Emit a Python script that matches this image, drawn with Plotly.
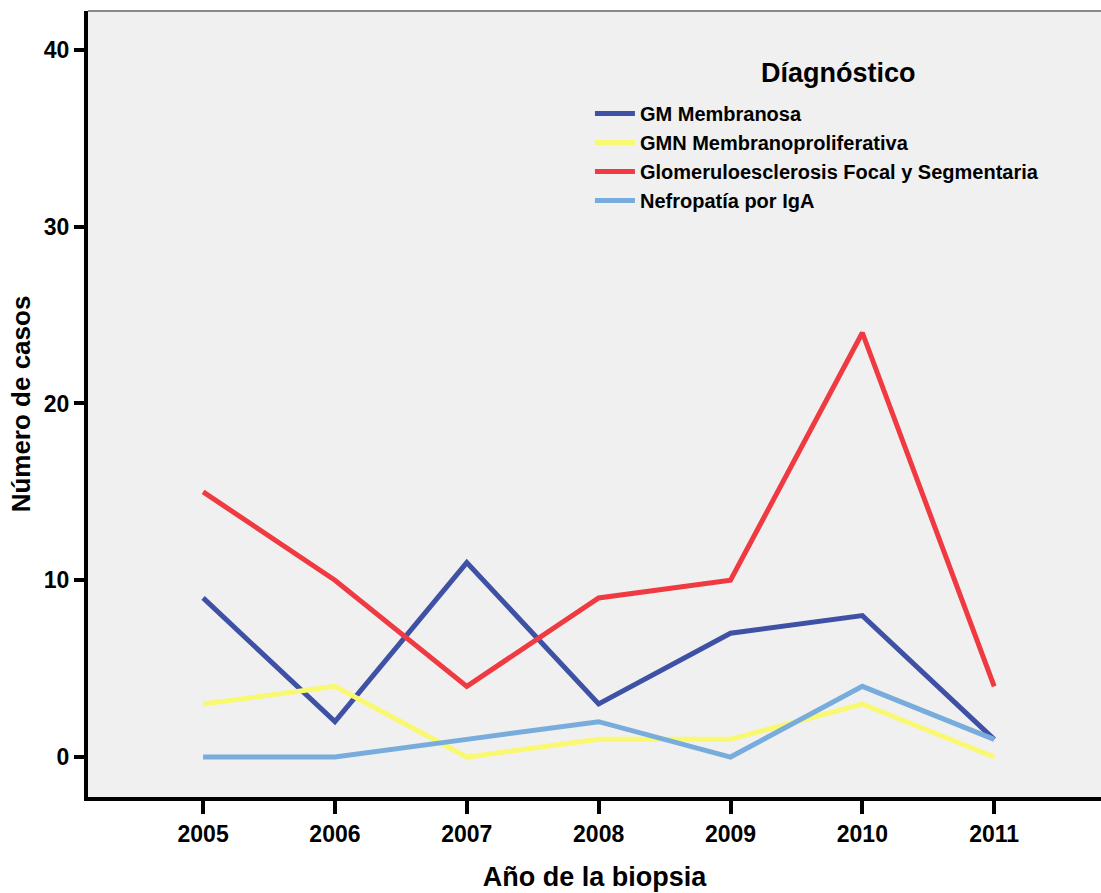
import plotly.graph_objects as go

years = [2005, 2006, 2007, 2008, 2009, 2010, 2011]
series_names = ["GM Membranosa", "GMN Membranoproliferativa",
                "Glomeruloesclerosis Focal y Segmentaria", "Nefropatía por IgA"]
gm_membranosa = [9, 2, 11, 3, 7, 8, 1]
gmn_membranoprolif = [3, 4, 0, 1, 1, 3, 0]
gfs = [15, 10, 4, 9, 10, 24, 4]
nefropatia_iga = [0, 0, 1, 2, 0, 4, 1]
colors = ["#3f51a5", "#f9f871", "#f03a42", "#78acdc"]
y_ticks = [0, 10, 20, 30, 40]
legend_title = "Díagnóstico"

font_family = "Liberation Sans, Arial, sans-serif"

fig = go.Figure()
for name, vals, col in zip(series_names,
                           [gm_membranosa, gmn_membranoprolif, gfs, nefropatia_iga],
                           colors):
    fig.add_trace(go.Scatter(x=years, y=vals, mode="lines", name=f"<b>{name}</b>",
                             line=dict(color=col, width=5)))

fig.update_layout(
    width=1101, height=893,
    margin=dict(l=88, r=0, t=11, b=96),
    paper_bgcolor="white",
    plot_bgcolor="#f0f0f0",
    font=dict(family=font_family, color="black"),
    showlegend=True,
    legend=dict(
        font=dict(size=20),
        x=0.4955, y=0.8944, xanchor="left", yanchor="top",
        bgcolor="rgba(0,0,0,0)",
        tracegroupgap=0, itemwidth=40,
    ),
    xaxis=dict(
        range=[2004.127, 2011.81],
        tickvals=years, ticktext=[f"<b>{y}</b>" for y in years],
        tickfont=dict(size=23),
        showline=True, linecolor="black", linewidth=4,
        ticks="outside", ticklen=13, tickwidth=4, tickcolor="black",
        showgrid=False, zeroline=False,
        title=dict(text="<b>Año de la biopsia</b>", font=dict(size=27), standoff=23),
    ),
    yaxis=dict(
        range=[-2.26, 42.2],
        tickvals=y_ticks, ticktext=[f"<b>{v}</b>" for v in y_ticks],
        tickfont=dict(size=23),
        showline=True, linecolor="black", linewidth=4,
        ticks="outside", ticklen=10, tickwidth=4, tickcolor="black",
        showgrid=False, zeroline=False,
        title=dict(text="<b>Número de casos</b>", font=dict(size=26), standoff=7),
    ),
)
fig.add_annotation(text=f"<b>{legend_title}</b>", xref="paper", yref="paper",
                   x=(838 - 88) / 1013, y=1 - (73 - 11) / 786,
                   xanchor="center", yanchor="middle", showarrow=False,
                   font=dict(size=27))
fig.add_shape(type="line", xref="paper", yref="paper", x0=0, x1=1, y0=1, y1=1,
              line=dict(color="#888888", width=2))

fig.write_html("out.html", config={"displayModeBar": False},
               post_script="document.body.style.margin='0';document.body.style.overflow='hidden';")
